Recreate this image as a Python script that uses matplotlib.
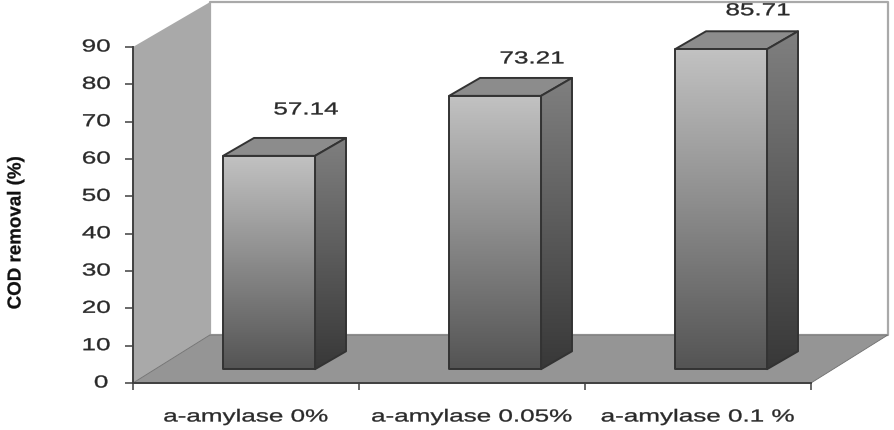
import numpy as np
import matplotlib
matplotlib.use("Agg")
import matplotlib.pyplot as plt
from matplotlib.patches import Polygon
from matplotlib.colors import LinearSegmentedColormap
from matplotlib.patheffects import AbstractPathEffect
from matplotlib.transforms import Affine2D

# Chart values
categories = ["a-amylase 0%", "a-amylase 0.05%", "a-amylase 0.1 %"]
cod_removal = [57.14, 73.21, 85.71]
y_ticks = [0, 10, 20, 30, 40, 50, 60, 70, 80, 90]

# Pseudo-3D layout, expressed in axis units
WALL_DX, WALL_DY, WALL_TOP = 0.34, 12.86, 102.0
BAR_DX, BAR_DY = 0.137, 4.8
BAR_WIDTH = 0.407
BAR_SHIFT = 0.102
BAR_LIFT = 3.7
LABEL_DX = 0.164
LABEL_RAISE = [16.0, 13.6, 14.0]

INK = "#2a2a2a"
FONT = ["Liberation Sans"]


class Stretch(AbstractPathEffect):
    """Scale glyph outlines along the text direction and thicken them slightly."""

    def __init__(self, factor, stroke=0.25):
        super().__init__()
        self.factor = factor
        self.stroke = stroke

    def draw_path(self, renderer, gc, tpath, affine, rgbFace=None):
        box = tpath.get_extents()
        mid = (box.x0 + box.x1) / 2
        stretch = Affine2D().translate(-mid, 0).scale(self.factor, 1).translate(mid, 0)
        pen = renderer.new_gc()
        pen.copy_properties(gc)
        pen.set_linewidth(self.stroke)
        pen.set_foreground(rgbFace)
        renderer.draw_path(pen, tpath, stretch + affine, rgbFace)
        pen.restore()


WIDE = [Stretch(1.5)]

fig = plt.figure(figsize=(8.94, 4.31), dpi=100, facecolor="white")
ax = fig.add_axes([133 / 894, (431 - 384) / 431, 678 / 894, 336 / 431])
ax.set_xlim(-0.5, 2.5)
ax.set_ylim(0, 90)
ax.patch.set_visible(False)


def face(points, color, edge, lw, z):
    ax.add_patch(Polygon(points, closed=True, facecolor=color, edgecolor=edge,
                         linewidth=lw, joinstyle="round", clip_on=False, zorder=z))


def gradient_face(points, top_grey, bottom_grey, z):
    """Fill a polygon with a vertical grey ramp and outline it."""
    pts = np.array(points)
    cmap = LinearSegmentedColormap.from_list("ramp", [str(bottom_grey), str(top_grey)])
    img = ax.imshow(np.linspace(0, 1, 128)[:, None], cmap=cmap, vmin=0, vmax=1, origin="lower",
                    extent=(pts[:, 0].min(), pts[:, 0].max(), pts[:, 1].min(), pts[:, 1].max()),
                    aspect="auto", zorder=z, interpolation="bilinear")
    img.set_clip_box(fig.bbox)
    img.set_clip_path(Polygon(pts, closed=True, transform=ax.transData))
    ax.add_patch(Polygon(pts, closed=True, facecolor="none", edgecolor="#333333", linewidth=1.4,
                         joinstyle="round", clip_on=False, zorder=z + 0.1))


# Chart box: back wall, side wall and floor
x0, x1 = -0.5, 2.5
face([(x0 + WALL_DX, WALL_DY), (x1 + WALL_DX, WALL_DY), (x1 + WALL_DX, WALL_TOP),
      (x0 + WALL_DX, WALL_TOP)], "white", "#a9a9a9", 1.6, 1)
face([(x0, 0), (x0 + WALL_DX, WALL_DY), (x0 + WALL_DX, WALL_TOP), (x0, 90)],
     "#a9a9a9", "none", 0, 2)
face([(x0, 0), (x1, 0), (x1 + WALL_DX, WALL_DY), (x0 + WALL_DX, WALL_DY)],
     "#959595", "#6f6f6f", 0.6, 2)

# Bars: top, side and front faces
for i, value in enumerate(cod_removal):
    left = i + BAR_SHIFT - BAR_WIDTH / 2
    right = left + BAR_WIDTH
    low, high = BAR_LIFT, BAR_LIFT + value
    face([(left, high), (right, high), (right + BAR_DX, high + BAR_DY), (left + BAR_DX, high + BAR_DY)],
         "#8c8c8c", "#333333", 1.4, 3)
    gradient_face([(right, low), (right + BAR_DX, low + BAR_DY),
                   (right + BAR_DX, high + BAR_DY), (right, high)], 0.50, 0.22, 3)
    gradient_face([(left, low), (right, low), (right, high), (left, high)], 0.76, 0.33, 4)
    ax.text(i + BAR_SHIFT + LABEL_DX, value + LABEL_RAISE[i], f"{value:.2f}", ha="center",
            va="center", fontsize=12.5, family=FONT, color=INK, zorder=6, clip_on=False,
            path_effects=WIDE)

ax.set_xlim(-0.5, 2.5)
ax.set_ylim(0, 90)

# Axes
for name in ("top", "right"):
    ax.spines[name].set_visible(False)
for name in ("left", "bottom"):
    ax.spines[name].set_color("#404040")
    ax.spines[name].set_linewidth(1.4)
    ax.spines[name].set_zorder(5)

ax.set_yticks(y_ticks)
ax.set_yticklabels([str(t) for t in y_ticks], fontsize=12.5, family=FONT, color=INK,
                   path_effects=WIDE, va="center")
ax.tick_params(axis="y", length=5.5, width=1.1, color="#404040", pad=14)
ax.set_xticks([-0.5, 0.5, 1.5, 2.5])
ax.set_xticklabels([])
ax.tick_params(axis="x", length=5, width=1.1, color="#404040")
for i, name in enumerate(categories):
    ax.annotate(name, xy=(i, 0), xytext=(0, -34), xycoords="data", textcoords="offset pixels",
                ha="center", va="center", fontsize=12.5, family=FONT, color=INK,
                annotation_clip=False, path_effects=WIDE)

fig.text(16 / 894, 1 - 234 / 431, "COD removal (%)", rotation=90, ha="center", va="center",
         fontsize=13.5, fontweight="bold", family=FONT, color="#111111",
         path_effects=[Stretch(1.0, stroke=0.2)])

fig.savefig("out.png", dpi=100, facecolor="white")
